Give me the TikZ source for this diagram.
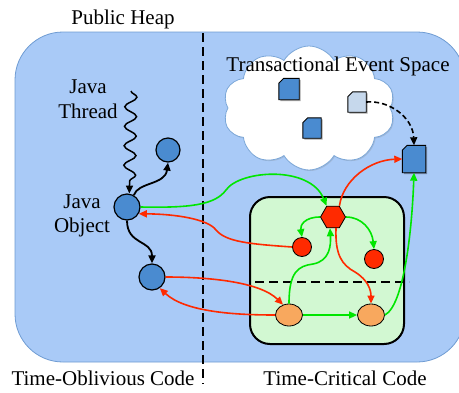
\documentclass[tikz,border=0pt]{standalone}
\usepackage{fontspec}
\setmainfont{Liberation Serif}
\usetikzlibrary{arrows.meta,shapes.geometric,shapes.symbols,decorations.pathmorphing,shadows}
\definecolor{heapfill}{HTML}{A9CAF7}
\definecolor{heapdraw}{HTML}{6E9BD2}
\definecolor{objblue}{HTML}{4A8BD0}
\definecolor{lightdoc}{HTML}{C6D8EC}
\definecolor{critfill}{HTML}{D2F8D2}
\definecolor{redc}{HTML}{FF2A00}
\definecolor{greenc}{HTML}{00E600}
\definecolor{orangec}{HTML}{F8A85E}
\definecolor{cloudline}{HTML}{7BA7D8}
\newcommand{\docoutline}[2]{%
  \fill[black,opacity=0.35] ([xshift=6.5pt,yshift=-1.5pt]#1.north west) -- ([xshift=1.5pt,yshift=-1.5pt]#1.north east) -- ([xshift=1.5pt,yshift=-1.5pt]#1.south east) -- ([xshift=1.5pt,yshift=-1.5pt]#1.south west) -- ([xshift=1.5pt,yshift=-6.5pt]#1.north west) -- cycle;
  \filldraw[draw=black,line width=0.9pt,fill=#2] ([xshift=5pt]#1.north west) -- (#1.north east) -- (#1.south east) -- (#1.south west) -- ([yshift=-5pt]#1.north west) -- cycle;}
\begin{document}
\begin{tikzpicture}[x=1pt,y=-1pt,font=\fontsize{21}{24.5}\selectfont,
  obj/.style={circle,draw=black,line width=1.2pt,fill=objblue,inner sep=0pt,minimum size=#1},
  doc/.style={rectangle,inner sep=0pt},
  rednode/.style={fill=redc,draw=black,line width=0.8pt,inner sep=0pt},
  orangenode/.style={ellipse,fill=orangec,draw=black,line width=0.8pt,inner sep=0pt,minimum width=27pt,minimum height=22pt},
  tip/.style={-{Triangle[length=8pt,width=7pt]}},
  blk/.style={tip,line width=1.8pt,black},
  grn/.style={tip,line width=1.6pt,greenc},
  rd/.style={tip,line width=1.6pt,redc},
  divider/.style={line width=2pt,dash pattern=on 9pt off 5pt}
]
\useasboundingbox (0,0) rectangle (459,392);
% public heap
\draw[heapdraw,fill=heapfill,line width=0.8pt,rounded corners=48pt] (15,32) rectangle (465,362);
\draw[divider] (203,33) -- (203,384);
% cloud
\node[cloud,cloud puffs=10,cloud puff arc=120,draw=cloudline,fill=white,line width=0.8pt,minimum width=172pt,minimum height=124pt,drop shadow={shadow xshift=1pt,shadow yshift=-1pt,opacity=0.25}] (cloud) at (309,108) {};
% texts
\node[anchor=base] (ph) at (123,24) {Public Heap};
\node[anchor=base] (tes) at (338,71) {Transactional Event Space};
\node[anchor=base] (toc) at (103,385) {Time-Oblivious Code};
\node[anchor=base] (tcc) at (345,385) {Time-Critical Code};
\node[align=center,inner sep=0pt] (jt) at (88,99) {Java\\Thread};
\node[align=center,inner sep=0pt] (jol) at (82,216) {Java\\Object};
% documents
\node[doc,minimum width=20pt,minimum height=21pt] (d1) at (289,89) {};
\node[doc,minimum width=18pt,minimum height=20pt] (d2) at (312,128) {};
\node[doc,minimum width=18pt,minimum height=20pt] (d3) at (357,102) {};
\node[doc,minimum width=23pt,minimum height=27pt] (d4) at (414,159) {};
\docoutline{d1}{objblue}
\docoutline{d2}{objblue}
\docoutline{d3}{lightdoc}
\docoutline{d4}{objblue}
% critical region
\node[draw=black,line width=2pt,fill=critfill,rounded corners=20pt,minimum width=154pt,minimum height=147pt] (crit) at (327,270.5) {};
\draw[divider] (255,282) -- (409,282);
% objects
\node[obj=26pt] (jo) at (127,207) {};
\node[obj=24pt] (top) at (168,150) {};
\node[obj=26pt] (low) at (152,277) {};
\node[rednode,regular polygon,regular polygon sides=6,minimum size=25pt] (hex) at (333,217) {};
\node[rednode,circle,minimum size=19pt] (r1) at (302,247) {};
\node[rednode,circle,minimum size=19pt] (r2) at (374,259) {};
\node[orangenode] (o1) at (289,315) {};
\node[orangenode] (o2) at (371,315) {};
% thread
\coordinate (wstart) at (131,91);
\draw[blk,line width=1.5pt,decorate,decoration={snake,segment length=19.5pt,amplitude=6pt,post length=8pt}] (wstart) -- (jo.80);
\draw[blk] (jo.60) .. controls (138,182) and (165,185) .. (top.south);
\draw[blk] (jo.south) .. controls (127,245) and (152,240) .. (low.north);
% dashed event arrow
\draw[blk,line width=1.6pt,dash pattern=on 5pt off 3pt] (d3.east) .. controls (390,100) and (413,118) .. (d4.north);
% green
\draw[grn] (jo.east) .. controls (190,208) and (215,205) .. (226,190) .. controls (240,170) and (310,165) .. (hex.120);
\draw[grn] (hex.west) .. controls (305,217) and (300,225) .. (r1.north);
\draw[grn] (hex.east) .. controls (362,217) and (372,230) .. (r2.north);
\draw[grn] (o1.north) .. controls (289,272) and (298,266) .. (313,264) .. controls (330,261) and (331,245) .. (hex.-105);
\draw[grn] (o1.east) -- (o2.west);
\draw[grn] (o2.east) .. controls (404,305) and (412,230) .. (d4.south);
% red
\draw[rd] (hex.60) .. controls (343,180) and (370,160) .. (d4.west);
\draw[rd] (r1.west) .. controls (250,244) and (226,242) .. (216,230) .. controls (208,219) and (175,214) .. (jo.-30);
\draw[rd] (low.east) .. controls (210,277) and (260,282) .. (o1.120);
\draw[rd] (o1.west) .. controls (235,315) and (185,312) .. (low.-55);
\draw[rd] (hex.-75) .. controls (335,255) and (342,265) .. (355,272) .. controls (368,280) and (371,290) .. (o2.north);
\end{tikzpicture}
\end{document}
